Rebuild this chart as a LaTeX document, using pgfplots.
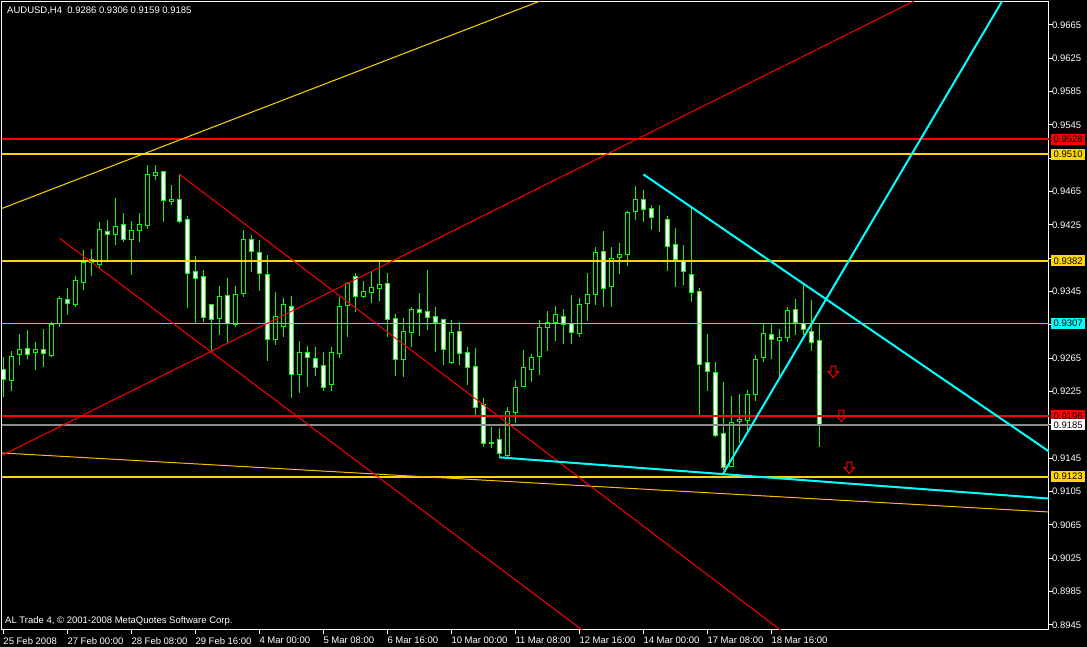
\documentclass[border=0pt]{standalone}
\usepackage{pgfplots}
\usepackage{pgfplotstable}
\pgfplotsset{compat=1.18}
\usepackage{fontspec}
\setmainfont{Liberation Sans}
\definecolor{mtlime}{RGB}{0,255,0}
\definecolor{mtgold}{RGB}{255,215,0}
\definecolor{mtred}{RGB}{255,0,0}
\definecolor{mtaqua}{RGB}{0,255,255}
\definecolor{mtorange}{RGB}{255,185,0}
\definecolor{mtgray}{RGB}{140,140,140}
\pgfdeclareplotmark{hdarrow}{%
  \pgfpathmoveto{\pgfqpoint{-2.5pt}{5.8pt}}%
  \pgfpathlineto{\pgfqpoint{2.5pt}{5.8pt}}%
  \pgfpathlineto{\pgfqpoint{2.5pt}{0.3pt}}%
  \pgfpathlineto{\pgfqpoint{5pt}{0.3pt}}%
  \pgfpathlineto{\pgfqpoint{0pt}{-5.5pt}}%
  \pgfpathlineto{\pgfqpoint{-5pt}{0.3pt}}%
  \pgfpathlineto{\pgfqpoint{-2.5pt}{0.3pt}}%
  \pgfpathclose
  \pgfusepathqstroke}
\pgfplotstableread{
x o h l c
0 0.9251 0.9266 0.9219 0.9240
1 0.9238 0.9274 0.9226 0.9267
2 0.9269 0.9294 0.9257 0.9276
3 0.9277 0.9299 0.9264 0.9270
4 0.9272 0.9285 0.9251 0.9276
5 0.9275 0.9300 0.9255 0.9271
6 0.9268 0.9309 0.9267 0.9306
7 0.9307 0.9340 0.9302 0.9337
8 0.9336 0.9349 0.9317 0.9331
9 0.9329 0.9364 0.9327 0.9358
10 0.9356 0.9395 0.9347 0.9380
11 0.9380 0.9396 0.9364 0.9383
12 0.9378 0.9429 0.9372 0.9419
13 0.9417 0.9431 0.9383 0.9413
14 0.9413 0.9457 0.9401 0.9423
15 0.9425 0.9439 0.9404 0.9407
16 0.9407 0.9430 0.9365 0.9418
17 0.9418 0.9439 0.9404 0.9426
18 0.9424 0.9497 0.9420 0.9486
19 0.9484 0.9497 0.9479 0.9488
20 0.9489 0.9490 0.9429 0.9454
21 0.9453 0.9473 0.9449 0.9455
22 0.9455 0.9486 0.9427 0.9429
23 0.9431 0.9436 0.9325 0.9367
24 0.9369 0.9388 0.9307 0.9361
25 0.9363 0.9371 0.9309 0.9314
26 0.9329 0.9329 0.9273 0.9311
27 0.9313 0.9352 0.9293 0.9339
28 0.9340 0.9361 0.9283 0.9307
29 0.9306 0.9352 0.9302 0.9342
30 0.9343 0.9419 0.9339 0.9407
31 0.9408 0.9413 0.9369 0.9393
32 0.9392 0.9407 0.9346 0.9367
33 0.9366 0.9389 0.9262 0.9287
34 0.9288 0.9345 0.9281 0.9315
35 0.9303 0.9337 0.9290 0.9330
36 0.9327 0.9340 0.9217 0.9246
37 0.9245 0.9286 0.9223 0.9272
38 0.9272 0.9280 0.9231 0.9266
39 0.9265 0.9279 0.9244 0.9254
40 0.9256 0.9273 0.9226 0.9230
41 0.9233 0.9279 0.9226 0.9272
42 0.9271 0.9339 0.9265 0.9327
43 0.9328 0.9356 0.9290 0.9355
44 0.9363 0.9367 0.9320 0.9339
45 0.9339 0.9358 0.9337 0.9345
46 0.9344 0.9369 0.9331 0.9350
47 0.9349 0.9382 0.9334 0.9354
48 0.9355 0.9367 0.9290 0.9311
49 0.9313 0.9318 0.9244 0.9264
50 0.9263 0.9313 0.9242 0.9297
51 0.9296 0.9327 0.9279 0.9323
52 0.9324 0.9343 0.9292 0.9320
53 0.9321 0.9371 0.9299 0.9314
54 0.9315 0.9327 0.9272 0.9308
55 0.9311 0.9312 0.9257 0.9275
56 0.9260 0.9311 0.9258 0.9296
57 0.9297 0.9309 0.9257 0.9271
58 0.9272 0.9279 0.9233 0.9254
59 0.9255 0.9277 0.9197 0.9206
60 0.9209 0.9217 0.9159 0.9163
61 0.9163 0.9183 0.9157 0.9164
62 0.9167 0.9181 0.9145 0.9151
63 0.9148 0.9206 0.9147 0.9201
64 0.9200 0.9239 0.9187 0.9230
65 0.9231 0.9275 0.9230 0.9254
66 0.9252 0.9270 0.9236 0.9266
67 0.9267 0.9311 0.9245 0.9302
68 0.9302 0.9322 0.9274 0.9308
69 0.9308 0.9328 0.9286 0.9317
70 0.9315 0.9324 0.9282 0.9306
71 0.9307 0.9341 0.9282 0.9296
72 0.9295 0.9337 0.9291 0.9330
73 0.9331 0.9367 0.9310 0.9341
74 0.9342 0.9399 0.9329 0.9392
75 0.9393 0.9418 0.9326 0.9349
76 0.9351 0.9399 0.9327 0.9385
77 0.9386 0.9403 0.9366 0.9389
78 0.9389 0.9442 0.9376 0.9440
79 0.9441 0.9472 0.9431 0.9455
80 0.9455 0.9467 0.9429 0.9444
81 0.9445 0.9449 0.9419 0.9434
82 0.9433 0.9449 0.9417 0.9433
83 0.9432 0.9436 0.9370 0.9399
84 0.9402 0.9421 0.9351 0.9383
85 0.9382 0.9401 0.9353 0.9369
86 0.9365 0.9445 0.9333 0.9344
87 0.9345 0.9349 0.9197 0.9258
88 0.9260 0.9294 0.9226 0.9249
89 0.9248 0.9261 0.9171 0.9172
90 0.9175 0.9236 0.9131 0.9134
91 0.9135 0.9220 0.9134 0.9188
92 0.9189 0.9222 0.9163 0.9192
93 0.9190 0.9227 0.9176 0.9221
94 0.9221 0.9269 0.9214 0.9263
95 0.9266 0.9306 0.9260 0.9295
96 0.9294 0.9306 0.9264 0.9287
97 0.9286 0.9300 0.9239 0.9290
98 0.9290 0.9327 0.9284 0.9322
99 0.9323 0.9336 0.9293 0.9308
100 0.9307 0.9354 0.9293 0.9299
101 0.9297 0.9335 0.9274 0.9284
102 0.9286 0.9306 0.9159 0.9185
}\candles
\pgfplotsset{mtbase/.style={scale only axis, width=1047pt, height=628pt,
  at={(2pt,17pt)}, anchor=south west,
  xmin=-0.1625, xmax=130.71, ymin=0.8939, ymax=0.96926}}
\begin{document}
\begin{tikzpicture}[font=\fontsize{9.5}{11}\selectfont]
\useasboundingbox (0,0) rectangle (1087pt,647pt);
\fill[black] (0,0) rectangle (1087pt,647pt);
% wicks
\begin{axis}[mtbase, hide axis]
\addplot[draw=none, mark=none, forget plot,
  error bars/.cd, y dir=plus, y explicit, error mark=none,
  error bar style={draw=mtlime, line width=1pt}]
  table[x=x, y=l, y error plus expr=\thisrow{h}-\thisrow{l}] {\candles};
\end{axis}
% bodies
\begin{axis}[mtbase, hide axis, ybar stacked, bar width=4pt]
\addplot[draw=none, fill=none] table[x=x, y expr={min(\thisrow{o},\thisrow{c})}] {\candles};
\addplot[draw=mtlime, fill=black, line width=1pt] table[x=x, y expr={max(\thisrow{c}-\thisrow{o},0)}] {\candles};
\addplot[draw=mtlime, fill=white, line width=1pt] table[x=x, y expr={max(\thisrow{o}-\thisrow{c},0)}] {\candles};
\end{axis}
% objects, frame, ticks
\begin{axis}[mtbase,
  axis line style={white, line width=1pt},
  tick style={white, line width=1pt},
  tick align=outside, major tick length=4pt,
  ytick pos=right, yticklabel pos=right, xtick pos=bottom,
  ytick={0.8945,0.8985,0.9025,0.9065,0.9105,0.9145,0.9185,0.9225,0.9265,0.9305,0.9345,0.9385,0.9425,0.9465,0.9505,0.9545,0.9585,0.9625,0.9665},
  yticklabels={0.8945,0.8985,0.9025,0.9065,0.9105,0.9145,{},0.9225,0.9265,{},0.9345,{},0.9425,0.9465,{},0.9545,0.9585,0.9625,0.9665},
  yticklabel style={text=white, anchor=west, inner sep=0pt, xshift=-1pt},
  xtick={0,8,16,24,32,40,48,56,64,72,80,88,96},
  xticklabels={25 Feb 2008, 27 Feb 00:00, 28 Feb 08:00, 29 Feb 16:00, 4 Mar 00:00, 5 Mar 08:00, 6 Mar 16:00, 10 Mar 00:00, 11 Mar 08:00, 12 Mar 16:00, 14 Mar 00:00, 17 Mar 08:00, 18 Mar 16:00},
  xticklabel style={text=white, anchor=north west, inner sep=0pt, xshift=0pt, yshift=-3pt},
  ]
% horizontal levels
\addplot[mtred, line width=1.4pt] coordinates {(-1,0.9528)(132,0.9528)};
\addplot[mtgold, line width=2pt] coordinates {(-1,0.9510)(132,0.9510)};
\addplot[mtgold, line width=2pt] coordinates {(-1,0.9382)(132,0.9382)};
\addplot[mtaqua, line width=1.2pt] coordinates {(-1,0.9307)(132,0.9307)};
\addplot[mtred, line width=1.4pt] coordinates {(-1,0.9196)(132,0.9196)};
\addplot[mtgray, line width=1.2pt] coordinates {(-1,0.9185)(132,0.9185)};
\addplot[mtgold, line width=2pt] coordinates {(-1,0.9123)(132,0.9123)};
% trend lines
\addplot[mtgold, line width=1pt] coordinates {(-1,0.94418)(70,0.97045)};
\addplot[mtorange, line width=1pt] coordinates {(-1,0.91519)(132,0.90799)};
\addplot[mtred, line width=1pt] coordinates {(-1,0.91444)(116,0.97041)};
\addplot[mtred, line width=1pt] coordinates {(21.96,0.94862)(97.46,0.89366)};
\addplot[mtred, line width=1pt] coordinates {(7.04,0.94090)(72.71,0.89366)};
\addplot[mtaqua, line width=2pt] coordinates {(80.0,0.94858)(132,0.91448)};
\addplot[mtaqua, line width=2pt] coordinates {(90.0,0.91270)(125.5,0.97042)};
\addplot[mtaqua, line width=2pt] coordinates {(62.0,0.91462)(132,0.90958)};
% arrows
\addplot[only marks, mark=hdarrow, mtred, mark options={line width=1pt}] coordinates {(103.75,0.92486)(104.75,0.91958)(105.75,0.91334)};
\end{axis}
% price labels
\begin{axis}[mtbase, hide axis, clip=false]
\tikzset{plab/.style={text=black, inner sep=0pt, minimum width=34pt, minimum height=11pt, anchor=west, xshift=2pt}}
\node[plab, fill=mtred] at (axis cs:130.71,0.9528) {0.9528};
\node[plab, fill=mtgold] at (axis cs:130.71,0.9510) {0.9510};
\node[plab, fill=mtgold] at (axis cs:130.71,0.9382) {0.9382};
\node[plab, fill=mtaqua] at (axis cs:130.71,0.9307) {0.9307};
\node[plab, fill=mtred] at (axis cs:130.71,0.9196) {0.9196};
\node[plab, fill=white] at (axis cs:130.71,0.9185) {0.9185};
\node[plab, fill=mtgold] at (axis cs:130.71,0.9123) {0.9123};
\end{axis}
\node[anchor=west, text=white, inner sep=0pt] at (7pt,636pt) {AUDUSD,H4\ \ 0.9286 0.9306 0.9159 0.9185};
\node[anchor=west, text=white, inner sep=0pt] at (5pt,26pt) {AL Trade 4, © 2001-2008 MetaQuotes Software Corp.};
\end{tikzpicture}
\end{document}
